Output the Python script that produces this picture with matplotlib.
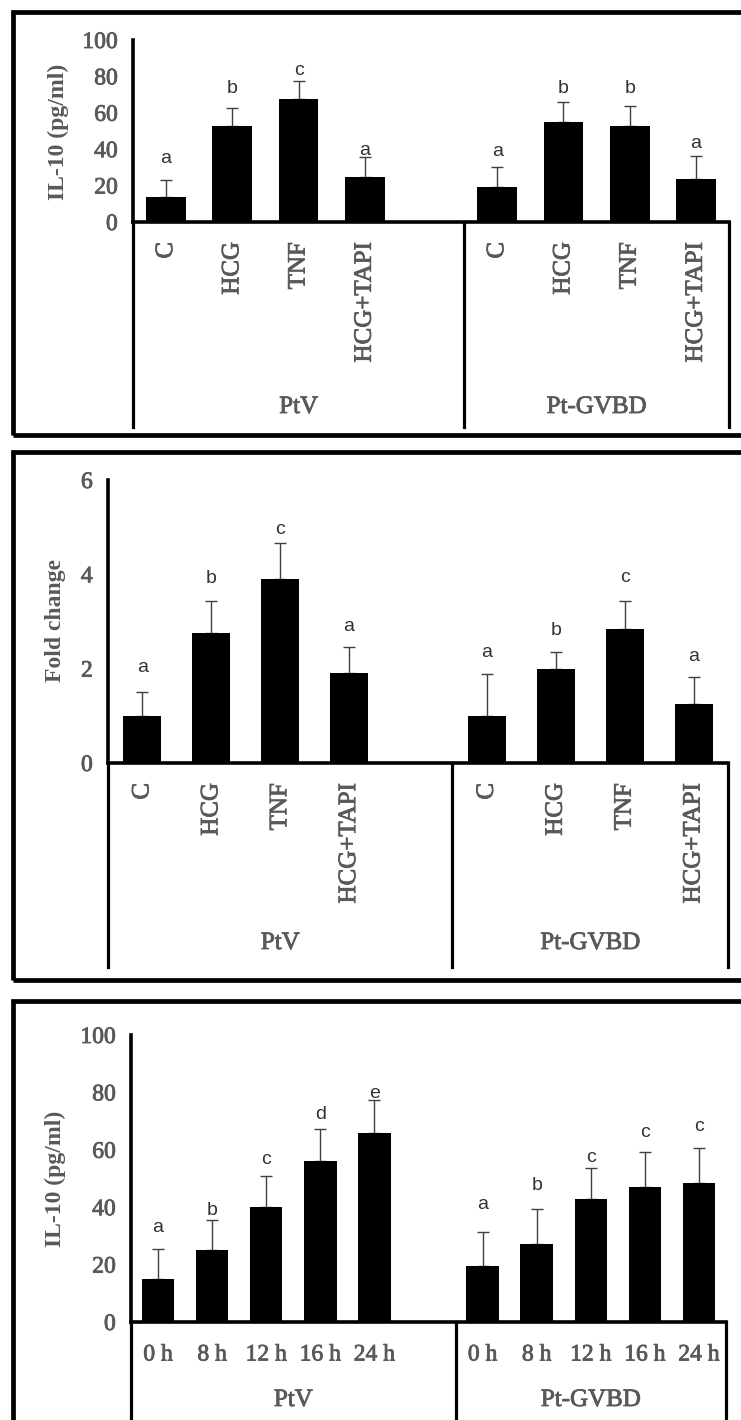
import matplotlib.pyplot as plt
import matplotlib.transforms as mtransforms
import matplotlib.patheffects as pe
from matplotlib.lines import Line2D
from matplotlib.patches import Rectangle

# ---- data ----
treat_cats = ["C", "HCG", "TNF", "HCG+TAPI"]
time_cats = ["0 h", "8 h", "12 h", "16 h", "24 h"]
groups = ["PtV", "Pt-GVBD"]

# panel A: IL-10 secretion (pg/ml)
il10_ptv = [13.5, 52.5, 67.5, 24.5]
il10_ptv_sd = [9.5, 10, 10, 11]
il10_gvbd = [19, 55, 52.5, 23.5]
il10_gvbd_sd = [11, 11, 11, 13]
il10_letters = ["a", "b", "c", "a", "a", "b", "b", "a"]
il10_letter_y = [32.4, 70.7, 80.8, 36.9, 36.0, 70.7, 70.7, 40.6]

# panel B: fold change
fold_ptv = [1.0, 2.75, 3.9, 1.9]
fold_ptv_sd = [0.5, 0.68, 0.77, 0.55]
fold_gvbd = [1.0, 2.0, 2.85, 1.25]
fold_gvbd_sd = [0.88, 0.36, 0.59, 0.58]
fold_letters = ["a", "b", "c", "a", "a", "b", "c", "a"]
fold_letter_y = [1.93, 3.81, 4.85, 2.80, 2.24, 2.71, 3.84, 2.17]

# panel C: IL-10 time course (pg/ml)
time_ptv = [15, 25, 40, 56, 66]
time_ptv_sd = [10.5, 10.5, 11, 11.3, 11.2]
time_gvbd = [19.5, 27.3, 43, 47.2, 48.6]
time_gvbd_sd = [11.9, 12.1, 10.5, 12.1, 12.1]
time_letters = ["a", "b", "c", "d", "e", "a", "b", "c", "c", "c"]
time_letter_y = [31.4, 37.2, 55.2, 70.9, 77.9, 39.5, 45.9, 55.8, 64.5, 66.5]

W, H = 741, 1420
GRAY = "#595959"
SERIF = "Liberation Serif"
# slightly heavier than regular, the scan looks semi-bold
THICK = [pe.withStroke(linewidth=0.6, foreground=GRAY)]

fig = plt.figure(figsize=(W / 100, H / 100), dpi=100)


def fx(x):
    return x / W


def fy(y):
    return 1 - y / H


def frame(top, bottom):
    # thick black border round each panel (right side runs off the picture)
    r = Rectangle((fx(13), fy(bottom)), fx(800) - fx(13), fy(top) - fy(bottom),
                  transform=fig.transFigure, fill=False, edgecolor="black",
                  linewidth=3.4, clip_on=False)
    fig.add_artist(r)


def panel(left, right, top, zero, box_bottom, cats, vals_a, sd_a, vals_b, sd_b,
          letters, letter_y, ymax, yticks, ylabel, ylabel_xy, width,
          rotate, cat_y, group_y):
    ax = fig.add_axes([fx(left), fy(zero), fx(right) - fx(left), fy(top) - fy(zero)])
    n = len(cats)
    xa = list(range(n))
    xb = [n + 1 + i for i in range(n)]
    xs = xa + xb
    vals = vals_a + vals_b
    sds = sd_a + sd_b

    ax.errorbar(xs, vals, yerr=[[0] * len(vals), sds], fmt="none",
                ecolor="#404040", elinewidth=1.0, capsize=4, capthick=1.0, zorder=1)
    ax.bar(xs, vals, width=width, color="black", zorder=2)

    for x, l, ly in zip(xs, letters, letter_y):
        ax.text(x, ly, l, ha="center", va="baseline", fontsize=14,
                family="Liberation Sans", color="#333333")

    ax.set_xlim(-0.5, 2 * n + 0.5)
    ax.set_ylim(0, ymax)
    ax.set_yticks(yticks)
    ax.set_yticklabels([str(t) for t in yticks], family=SERIF,
                       fontsize=17, color=GRAY)
    for t in ax.get_yticklabels():
        t.set_path_effects(THICK)
    ax.tick_params(axis="y", length=0, pad=11)
    ax.set_xticks([])
    for s in ["top", "right"]:
        ax.spines[s].set_visible(False)
    ax.spines["left"].set_linewidth(2.6)
    ax.spines["bottom"].set_linewidth(2.6)
    ax.patch.set_alpha(0)

    blend = mtransforms.blended_transform_factory(ax.transData, fig.transFigure)
    sep = n + 0.5
    for xv in [-0.5, sep, 2 * n + 0.5]:
        ax.add_line(Line2D([xv, xv], [fy(zero), fy(box_bottom)], transform=blend,
                           color="black", linewidth=2.3, clip_on=False))

    for x, c in zip(xs, cats + cats):
        if rotate:
            ax.text(x, fy(cat_y), c, transform=blend, rotation=90, ha="center",
                    va="top", family=SERIF, fontsize=18, color=GRAY, path_effects=THICK)
        else:
            ax.text(x, fy(cat_y), c, transform=blend, ha="center", va="center",
                    family=SERIF, fontsize=17, color=GRAY, path_effects=THICK)

    centers = [(-0.5 + sep) / 2, (sep + 2 * n + 0.5) / 2]
    for cx, g in zip(centers, groups):
        ax.text(cx, fy(group_y), g, transform=blend, ha="center", va="center",
                family=SERIF, fontsize=18, color=GRAY, path_effects=THICK)

    fig.text(fx(ylabel_xy[0]), fy(ylabel_xy[1]), ylabel, rotation=90, ha="center",
             va="center", family=SERIF, fontweight="bold", fontsize=17, color=GRAY)
    return ax


frame(12, 435)
panel(133, 729, 40, 222, 427, treat_cats, il10_ptv, il10_ptv_sd, il10_gvbd, il10_gvbd_sd,
      il10_letters, il10_letter_y, 100, [0, 20, 40, 60, 80, 100], "IL-10 (pg/ml)",
      (58, 132), 0.6, True, 242, 407)

frame(452, 980)
panel(108, 728, 480, 763, 967, treat_cats, fold_ptv, fold_ptv_sd, fold_gvbd, fold_gvbd_sd,
      fold_letters, fold_letter_y, 6, [0, 2, 4, 6], "Fold change",
      (55, 620), 0.55, True, 783, 943)

frame(1001, 1500)
panel(131, 726, 1035, 1322, 1460, time_cats, time_ptv, time_ptv_sd, time_gvbd, time_gvbd_sd,
      time_letters, time_letter_y, 100, [0, 20, 40, 60, 80, 100], "IL-10 (pg/ml)",
      (55, 1179), 0.6, False, 1355, 1400)

fig.savefig("out.png", dpi=100)
